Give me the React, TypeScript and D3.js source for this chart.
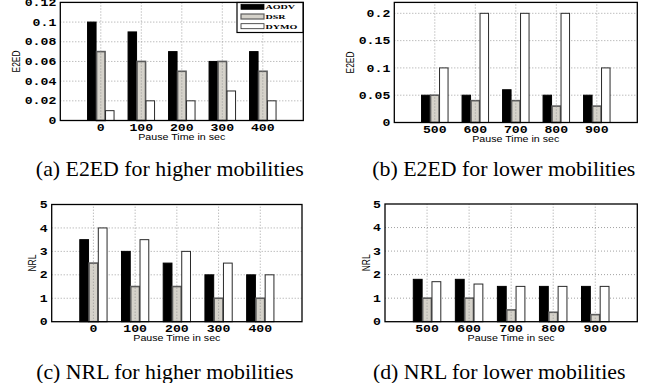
import React from "react";
import * as d3 from "d3";

const seriesNames = ["AODV", "DSR", "DYMO"];
const pauseHigh = ["0", "100", "200", "300", "400"];
const pauseLow = ["500", "600", "700", "800", "900"];

const e2edHighAODV = [0.1, 0.09, 0.07, 0.06, 0.07];
const e2edHighDSR = [0.07, 0.06, 0.05, 0.06, 0.05];
const e2edHighDYMO = [0.01, 0.02, 0.02, 0.03, 0.02];

const e2edLowAODV = [0.05, 0.05, 0.06, 0.05, 0.05];
const e2edLowDSR = [0.05, 0.04, 0.04, 0.03, 0.03];
const e2edLowDYMO = [0.1, 0.2, 0.2, 0.2, 0.1];

const nrlHighAODV = [3.5, 3, 2.5, 2, 2];
const nrlHighDSR = [2.5, 1.5, 1.5, 1, 1];
const nrlHighDYMO = [4, 3.5, 3, 2.5, 2];

const nrlLowAODV = [1.8, 1.8, 1.5, 1.5, 1.5];
const nrlLowDSR = [1, 1, 0.5, 0.4, 0.3];
const nrlLowDYMO = [1.7, 1.6, 1.5, 1.5, 1.5];

const e2edHighTicks = [0, 0.02, 0.04, 0.06, 0.08, 0.1, 0.12];
const e2edHighTickLabels = ["0", "0.02", "0.04", "0.06", "0.08", "0.1", "0.12"];
const e2edLowTicks = [0, 0.05, 0.1, 0.15, 0.2];
const e2edLowTickLabels = ["0", "0.05", "0.1", "0.15", "0.2"];
const nrlTicks = [0, 1, 2, 3, 4, 5];
const nrlTickLabels = ["0", "1", "2", "3", "4", "5"];

const captions = [
  "(a) E2ED for higher mobilities",
  "(b) E2ED for lower mobilities",
  "(c) NRL for higher mobilities",
  "(d) NRL for lower mobilities",
];

const FILLS = ["#000000", "#d5d2ca", "#ffffff"];
const STROKES = ["#000000", "#5c5c5c", "#2a2a2a"];
const STROKE_W = [1, 1.6, 1];
const MONO = "'Liberation Mono', 'DejaVu Sans Mono', monospace";
const SANS = "'Liberation Sans', Arial, sans-serif";
const SERIF = "'Liberation Serif', 'Times New Roman', serif";

type PanelProps = {
  left: number; right: number; top: number; bottom: number;
  cats: string[];
  series: number[][];
  yMax: number;
  ticks: number[];
  tickLabels: string[];
  ylabel: string;
  ylabelX: number;
  caption: string;
  captionY: number;
  legend?: boolean;
};

function Panel(p: PanelProps) {
  const x = d3.scaleLinear().domain([0, p.cats.length + 1]).range([p.left, p.right]);
  const y = d3.scaleLinear().domain([0, p.yMax]).range([p.bottom, p.top]);
  const bw = x(0.21) - x(0);
  const off = 0.222;
  const midX = (p.left + p.right) / 2;
  const midY = (p.top + p.bottom) / 2;
  return (
    <g>
      {/* horizontal grid */}
      {p.ticks.filter((t) => t > 0 && y(t) > p.top + 1).map((t, i) => (
        <line key={"hg" + i} x1={p.left} x2={p.right} y1={y(t)} y2={y(t)}
          stroke="#8a8a8a" strokeWidth={0.8} strokeDasharray="1,2" />
      ))}
      {/* bars */}
      {p.series.map((vals, s) =>
        vals.map((v, i) => {
          const cx = x(i + 1 + (s - 1) * off);
          return (
            <rect key={`b${s}-${i}`} x={cx - bw / 2} y={y(v)} width={bw} height={y(0) - y(v)}
              fill={FILLS[s]} stroke={STROKES[s]} strokeWidth={STROKE_W[s]} />
          );
        })
      )}
      {/* vertical grid */}
      {p.cats.map((c, i) => (
        <line key={"vg" + i} x1={x(i + 1)} x2={x(i + 1)} y1={p.bottom} y2={p.top}
          stroke="#8a8a8a" strokeWidth={0.8} strokeDasharray="1,2" />
      ))}
      {/* frame */}
      <rect x={p.left} y={p.top} width={p.right - p.left} height={p.bottom - p.top}
        fill="none" stroke="#000" strokeWidth={1.3} />
      {/* y tick labels */}
      {p.ticks.map((t, i) => (
        <text key={"yt" + i} transform={`translate(${p.left - 4},${y(t) + 3.6}) scale(1.2,1)`}
          textAnchor="end" fontFamily={MONO} fontWeight="bold" fontSize={11} fill="#000">
          {p.tickLabels[i]}
        </text>
      ))}
      {/* x tick labels */}
      {p.cats.map((c, i) => (
        <text key={"xt" + i} transform={`translate(${x(i + 1)},${p.bottom + 10.5}) scale(1.2,1)`}
          textAnchor="middle" fontFamily={MONO} fontWeight="bold" fontSize={11} fill="#000">
          {c}
        </text>
      ))}
      {/* x label */}
      <text transform={`translate(${midX},${p.bottom + 19.5}) scale(1.27,1)`} textAnchor="middle"
        fontFamily={SANS} fontSize={8.4} fill="#000">
        Pause Time in sec
      </text>
      {/* y label */}
      <text transform={`translate(${p.ylabelX + 4},${midY}) rotate(-90) scale(1,1.3)`} textAnchor="middle"
        fontFamily={SANS} fontSize={8.4} fill="#000">
        {p.ylabel}
      </text>
      {/* caption */}
      <text transform={`translate(${midX - 12},${p.captionY}) scale(1.04,1)`} textAnchor="middle"
        fontFamily={SERIF} fontSize={21} fill="#000">
        {p.caption}
      </text>
      {p.legend && (
        <g>
          <rect x={237} y={2.5} width={66} height={30} fill="#fff" stroke="#000" strokeWidth={1.2} />
          {seriesNames.map((n, s) => (
            <g key={n}>
              <rect x={241} y={4.3 + s * 9.7} width={23} height={5}
                fill={FILLS[s]} stroke={STROKES[s]} strokeWidth={s === 1 ? 1.2 : 0.8} />
              <text transform={`translate(${265.5},${9.2 + s * 9.7}) scale(1.55,1)`}
                fontFamily={SERIF} fontWeight="bold" fontSize={6.5} fill="#000">
                {n}
              </text>
            </g>
          ))}
        </g>
      )}
    </g>
  );
}

export default function App() {
  return (
    <svg width={652} height={383} style={{ position: "absolute", left: 0, top: 0, background: "#fff" }}>
      <rect x={0} y={0} width={652} height={383} fill="#fff" />
      <Panel left={60.3} right={303.3} top={2.4} bottom={120.5}
        cats={pauseHigh} series={[e2edHighAODV, e2edHighDSR, e2edHighDYMO]}
        yMax={0.12} ticks={e2edHighTicks} tickLabels={e2edHighTickLabels}
        ylabel="E2ED" ylabelX={16} caption={captions[0]} captionY={176} legend />
      <Panel left={394.3} right={637.3} top={2.4} bottom={122.5}
        cats={pauseLow} series={[e2edLowAODV, e2edLowDSR, e2edLowDYMO]}
        yMax={0.22} ticks={e2edLowTicks} tickLabels={e2edLowTickLabels}
        ylabel="E2ED" ylabelX={349.7} caption={captions[1]} captionY={176} />
      <Panel left={51.7} right={302} top={204.5} bottom={321.7}
        cats={pauseHigh} series={[nrlHighAODV, nrlHighDSR, nrlHighDYMO]}
        yMax={5} ticks={nrlTicks} tickLabels={nrlTickLabels}
        ylabel="NRL" ylabelX={32} caption={captions[2]} captionY={379} />
      <Panel left={385} right={637.3} top={204} bottom={321.7}
        cats={pauseLow} series={[nrlLowAODV, nrlLowDSR, nrlLowDYMO]}
        yMax={5} ticks={nrlTicks} tickLabels={nrlTickLabels}
        ylabel="NRL" ylabelX={365.5} caption={captions[3]} captionY={379} />
    </svg>
  );
}
